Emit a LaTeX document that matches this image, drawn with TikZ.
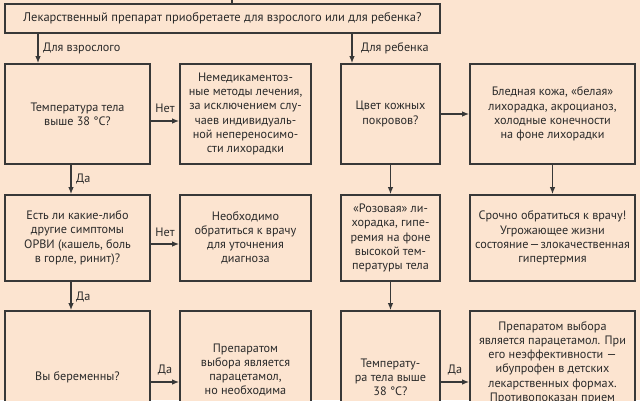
\documentclass[tikz,border=0pt]{standalone}
\usepackage{fontspec}
\setmainfont{PT Sans}
\usetikzlibrary{arrows.meta}
\definecolor{bg}{HTML}{FCE4D0}
\definecolor{ln}{HTML}{383838}
\definecolor{tx}{HTML}{2A2A2A}
\begin{document}
\begin{tikzpicture}[x=1pt,y=-1pt,
  txtfont/.style={font=\fontsize{12.2}{14.2}\selectfont},
  box/.style={draw=ln, line width=1.6pt, fill=bg, rectangle, inner sep=0pt,
    align=center, text=tx, txtfont},
  plain/.style={text=tx, inner sep=0pt, align=center, txtfont},
  arr/.style={draw=ln, line width=1.6pt, -{Latex[length=7pt,width=5.5pt]}},
  ln1/.style={draw=ln, line width=1.6pt}]
\useasboundingbox (0,0) rectangle (640,400);
\fill[bg] (0,0) rectangle (640,400);
\clip (0,0) rectangle (640,400);

% top question
\node[box, minimum width=435pt, minimum height=29pt, font=\fontsize{12.5}{14.2}\selectfont] (top) at (222.5,18.5)
  {Лекарственный препарат приобретаете для взрослого или для ребенка?};

% row 1
\node[box, minimum width=145pt, minimum height=100pt] (a1) at (77.5,114)
  {Температура тела\\выше 38 °С?};
\node[box, minimum width=131pt, minimum height=100pt] (b1) at (245.5,114)
  {Немедикаментоз-\\ные методы лечения,\\за исключением слу-\\чаев индивидуаль-\\ной непереносимо-\\сти лихорадки};
\node[box, minimum width=99pt, minimum height=100pt] (c1) at (390.5,114)
  {Цвет кожных\\покровов?};
\node[box, minimum width=165pt, minimum height=100pt] (d1) at (552.5,114)
  {Бледная кожа, «белая»\\лихорадка, акроцианоз,\\холодные конечности\\на фоне лихорадки};

% row 2
\node[box, minimum width=145pt, minimum height=86pt] (a2) at (77.5,238)
  {Есть ли какие-либо\\другие симптомы\\ОРВИ (кашель, боль\\в горле, ринит)?};
\node[box, minimum width=131pt, minimum height=86pt] (b2) at (245.5,238)
  {Необходимо\\обратиться к врачу\\для уточнения\\диагноза};
\node[box, minimum width=99pt, minimum height=86pt] (c2) at (390.5,238)
  {«Розовая» ли-\\хорадка, гипе-\\ремия на фоне\\высокой тем-\\пературы тела};
\node[box, minimum width=165pt, minimum height=86pt] (d2) at (552.5,238)
  {Срочно обратиться к врачу!\\Угрожающее жизни\\состояние\kern1pt—\kern1pt злокачественная\\гипертермия};

% row 3 (cut by the frame)
\node[box, minimum width=145pt, minimum height=133pt] (a3) at (77.5,377.5)
  {Вы беременны?};
\node[box, minimum width=131pt, minimum height=133pt] (b3) at (245.5,377.5) {};
\node[plain] (b3t) at (245.5,370)
  {Препаратом\\выбора является\\парацетамол,\\но необходима};
\node[box, minimum width=99pt, minimum height=133pt] (c3) at (390.5,377.5)
  {Температу-\\ра тела выше\\38 °С?};
\node[box, minimum width=165pt, minimum height=133pt] (d3) at (552.5,377.5) {};
\node[plain] (d3t) at (552.5,362.5)
  {Препаратом выбора\\является парацетамол. При\\его неэффективности —\\ибупрофен в детских\\лекарственных формах.\\Противопоказан прием};

% connectors
\coordinate (topin) at (232,0);
\draw[ln1] (topin) -- (top.north -| topin);

\coordinate (xa) at (38,0);
\coordinate (xc) at (352,0);
\draw[arr] (top.south -| xa) -- (a1.north -| xa);
\draw[arr] (top.south -| xc) -- (c1.north -| xc);
\node[plain, anchor=west] (lva) at (43,48) {Для взрослого};
\node[plain, anchor=west] (lvc) at (361,48) {Для ребенка};

\coordinate (ya1) at (0,121);
\draw[arr] (a1.east |- ya1) -- (b1.west |- ya1);
\node[plain] (lno1) at (165,108) {Нет};
\draw[arr] (c1) -- (d1);

\coordinate (xd) at (71,0);
\draw[arr] (a1.south -| xd) -- (a2.north -| xd);
\node[plain, anchor=west] (lyes1) at (76,179) {Да};
\draw[arr] (c1) -- (c2);
\draw[arr] (d1) -- (d2);

\coordinate (ya2) at (0,244);
\draw[arr] (a2.east |- ya2) -- (b2.west |- ya2);
\node[plain] (lno2) at (165,232) {Нет};

\draw[arr] (a2.south -| xd) -- (a3.north -| xd);
\node[plain, anchor=west] (lyes2) at (76,297) {Да};
\draw[arr] (c2) -- (c3);

\coordinate (ya3) at (0,382);
\draw[arr] (a3.east |- ya3) -- (b3.west |- ya3);
\node[plain] (lyes3) at (165,370) {Да};
\draw[arr] (c3.east |- ya3) -- (d3.west |- ya3);
\node[plain] (lyes4) at (455,370) {Да};
\end{tikzpicture}
\end{document}
